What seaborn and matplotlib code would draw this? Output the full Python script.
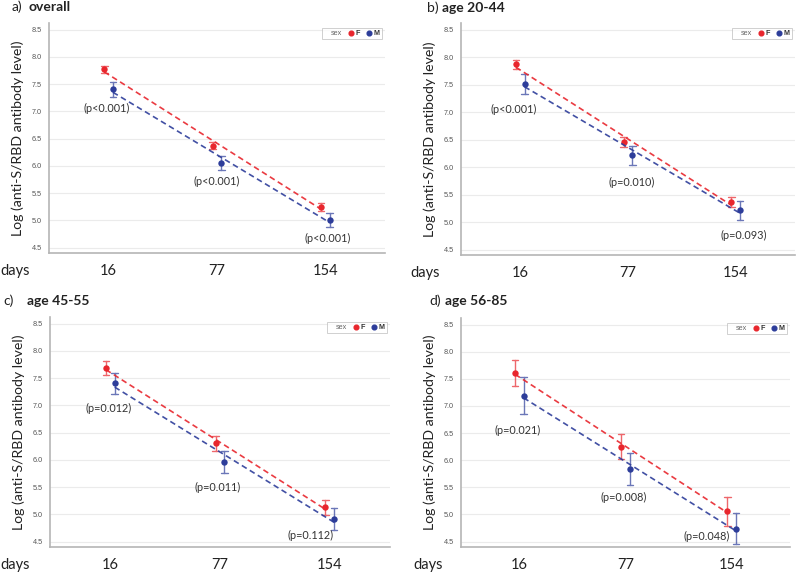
import numpy as np
import pandas as pd
import seaborn as sns
import matplotlib.pyplot as plt
from matplotlib.lines import Line2D
from matplotlib.transforms import blended_transform_factory

days = [16, 77, 154]
sexes = ["F", "M"]

# means and half-width of the error bars
overall_f = [7.77, 6.37, 5.25]
overall_f_err = [0.07, 0.07, 0.075]
overall_m = [7.40, 6.05, 5.01]
overall_m_err = [0.13, 0.125, 0.13]
overall_p = ["(p<0.001)", "(p<0.001)", "(p<0.001)"]

age20_f = [7.87, 6.45, 5.36]
age20_f_err = [0.08, 0.09, 0.09]
age20_m = [7.51, 6.21, 5.21]
age20_m_err = [0.18, 0.18, 0.18]
age20_p = ["(p<0.001)", "(p=0.010)", "(p=0.093)"]

age45_f = [7.69, 6.30, 5.13]
age45_f_err = [0.13, 0.135, 0.135]
age45_m = [7.40, 5.96, 4.92]
age45_m_err = [0.19, 0.20, 0.20]
age45_p = ["(p=0.012)", "(p=0.011)", "(p=0.112)"]

age56_f = [7.61, 6.25, 5.06]
age56_f_err = [0.245, 0.23, 0.27]
age56_m = [7.19, 5.84, 4.74]
age56_m_err = [0.34, 0.29, 0.29]
age56_p = ["(p=0.021)", "(p=0.008)", "(p=0.048)"]

colors = {"F": "#e8262d", "M": "#2d3d9a"}

sns.set_style("white")
plt.rcParams["font.family"] = ["Lato", "DejaVu Sans"]

fig = plt.figure(figsize=(8, 5.76), dpi=100)


def make_df(f, f_err, m, m_err):
    rows = []
    for sex, mean, err in (("F", f, f_err), ("M", m, m_err)):
        for d, mu, e in zip(days, mean, err):
            for v in (mu - e, mu, mu + e):
                rows.append({"day": d, "sex": sex, "value": v})
    return pd.DataFrame(rows)


# (letter, title, data, p labels, axes box in px (l, t, r, b), title pos px, days x px, p label offsets)
panels = [
    ("a)", "overall", (overall_f, overall_f_err, overall_m, overall_m_err), overall_p,
     (49, 23, 385, 253), (12, 28, 7), 0,
     [(-2, -12), (0, -12), (2, -12)]),
    ("b)", "age 20-44", (age20_f, age20_f_err, age20_m, age20_m_err), age20_p,
     (461, 23, 795, 255), (427, 442, 8), 410,
     [(-7, -16), (4, -17), (8, -15)]),
    ("c)", "age 45-55", (age45_f, age45_f_err, age45_m, age45_m_err), age45_p,
     (50, 317, 390, 547), (3, 27, 301), 0,
     [(-2, -15), (-2, -15), (-19, -6)]),
    ("d)", "age 56-85", (age56_f, age56_f_err, age56_m, age56_m_err), age56_p,
     (461, 318, 790, 547), (429, 445, 301), 413,
     [(-2, -16), (-2, -13), (-25, 8)]),
]

W, H = 800, 576
for letter, title, data, plabels, (l, t, r, b), (tx1, tx2, ty), days_x, offs in panels:
    ax = fig.add_axes([l / W, 1 - b / H, (r - l) / W, (b - t) / H])
    f, f_err, m, m_err = data
    df = make_df(f, f_err, m, m_err)

    sns.pointplot(data=df, x="day", y="value", hue="sex", order=days, hue_order=sexes,
                  palette=colors, dodge=0.08, linestyle="none", markers="o",
                  estimator="median", errorbar=lambda v: (v.min(), v.max()), capsize=0.06,
                  err_kws={"linewidth": 1.0, "alpha": 0.7}, legend=False, ax=ax)
    # shrink the point markers (seaborn scales them with the line width)
    for ln in ax.lines:
        if ln.get_marker() == "o":
            ln.set_markersize(4.6)
            ln.set_markeredgewidth(0)

    pos = np.arange(len(days))
    for sex, mean, off in (("F", f, -0.04), ("M", m, 0.04)):
        sns.regplot(x=pos + off, y=mean, scatter=False, ci=None, truncate=True,
                    line_kws={"color": colors[sex], "linestyle": (0, (3.4, 2.2)),
                              "linewidth": 1.2, "alpha": 0.9}, ax=ax)

    for i, lab in enumerate(plabels):
        ax.annotate(lab, xy=(i, m[i] - m_err[i]), xytext=offs[i], textcoords="offset pixels",
                    ha="center", va="center", fontsize=7.8, color="#333333")

    ax.set_xlim(-0.55, 2.55)
    ax.set_ylim(4.4, 8.62)
    ax.set_yticks(np.arange(4.5, 8.51, 0.5))
    ax.set_yticklabels([f"{v:.1f}" for v in np.arange(4.5, 8.51, 0.5)],
                       fontsize=5.2, color="#555555", family=["Liberation Sans", "DejaVu Sans"])
    ax.set_xticks(pos)
    ax.set_xticklabels([str(d) for d in days], fontsize=10.5, color="#222222")
    ax.tick_params(axis="y", length=3, width=0.7, color="#bbbbbb", pad=2)
    ax.tick_params(axis="x", length=3, width=0.7, color="#bbbbbb", pad=5)
    ax.yaxis.grid(True, color="#ebebeb", linewidth=0.8)
    ax.set_axisbelow(True)
    for s in ("top", "right"):
        ax.spines[s].set_visible(False)
    for s in ("left", "bottom"):
        ax.spines[s].set_color("#b5b5b5")
        ax.spines[s].set_linewidth(1.2)
    ax.set_xlabel("")
    ax.set_ylabel("Log (anti-S/RBD antibody level)", fontsize=10.2, color="#222222", labelpad=6)

    trans = blended_transform_factory(fig.transFigure, ax.transAxes)
    ax.annotate("days", xy=(days_x / W, 0), xycoords=trans, xytext=(0, -18),
                textcoords="offset pixels", ha="left", va="center", fontsize=10.5,
                color="#222222", annotation_clip=False)

    fig.text(tx1 / W, 1 - ty / H, letter, fontsize=10, va="center", ha="left", color="#222222")
    fig.text(tx2 / W, 1 - ty / H, title, fontsize=10, va="center", ha="left",
             fontweight="bold", color="#222222")

    handles = [Line2D([], [], linestyle="none"),
               Line2D([], [], linestyle="none", marker="o", markersize=3.4, color=colors["F"]),
               Line2D([], [], linestyle="none", marker="o", markersize=3.4, color=colors["M"])]
    leg = ax.legend(handles, ["sex", "F", "M"], ncol=3, loc="upper right",
                    bbox_to_anchor=(1 - 3 / (r - l), 1 - 5 / (b - t)), borderaxespad=0,
                    fontsize=5.2, frameon=True, fancybox=False, handlelength=0.5,
                    handletextpad=0.4, columnspacing=1.0, borderpad=0.3)
    leg.get_frame().set_edgecolor("#bbbbbb")
    leg.get_frame().set_linewidth(0.6)
    for txt in leg.get_texts():
        txt.set_family(["Liberation Sans", "DejaVu Sans"])
        if txt.get_text() == "sex":
            txt.set_color("#666666")
        else:
            txt.set_fontweight("bold")
            txt.set_color("#333333")

fig.savefig("out.png", dpi=100)
